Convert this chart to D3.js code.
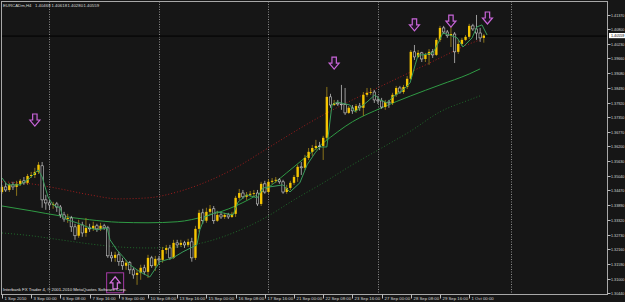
<!DOCTYPE html>
<html>
<head>
<meta charset="utf-8">
<script src="https://cdnjs.cloudflare.com/ajax/libs/d3/7.8.5/d3.min.js"></script>
<style>
	html, body { margin: 0; padding: 0; background: #161616; }
	svg { display: block; }
	text { font-family: "Liberation Sans", Arial, sans-serif; }
</style>
</head>
<body>
<div id="chart"></div>
<script>
const symbol = "EURCADm,H4";
const lastOHLC = ["1.40468", "1.40618", "1.40280", "1.40559"];
const currentPrice = 1.40559;
const copyright = "Interbank FX Trader 4, \u00a9 2001-2010 MetaQuotes Software Corp.";

// H4 candles, bar 0 = 1 Sep 2010 16:00
const opens = [
	1.3441, 1.3461, 1.3449, 1.3469, 1.3461, 1.3473, 1.3485, 1.3477, 1.3504, 1.3508,
	1.3520, 1.3544, 1.3410, 1.3398, 1.3390, 1.3394, 1.3382, 1.3351, 1.3335, 1.3339,
	1.3304, 1.3269, 1.3312, 1.3280, 1.3300, 1.3296, 1.3308, 1.3296, 1.3308, 1.3300,
	1.3190, 1.3182, 1.3194, 1.3167, 1.3151, 1.3163, 1.3135, 1.3115, 1.3123, 1.3143,
	1.3127, 1.3182, 1.3151, 1.3178, 1.3174, 1.3213, 1.3221, 1.3182, 1.3241, 1.3233,
	1.3241, 1.3233, 1.3245, 1.3182, 1.3296, 1.3359, 1.3328, 1.3363, 1.3375, 1.3328,
	1.3351, 1.3343, 1.3351, 1.3343, 1.3355, 1.3418, 1.3437, 1.3422, 1.3430, 1.3434,
	1.3437, 1.3394, 1.3473, 1.3441, 1.3481, 1.3485, 1.3489, 1.3481, 1.3441, 1.3457,
	1.3477, 1.3500, 1.3540, 1.3536, 1.3575, 1.3599, 1.3614, 1.3622, 1.3622, 1.3654,
	1.3815, 1.3783, 1.3791, 1.3787, 1.3785, 1.3752, 1.3772, 1.3760, 1.3779, 1.3772,
	1.3823, 1.3831, 1.3834, 1.3803, 1.3799, 1.3775, 1.3795, 1.3791, 1.3823, 1.3850,
	1.3834, 1.3854, 1.3886, 1.3992, 1.3972, 1.3988, 1.3964, 1.3980, 1.3992, 1.3980,
	1.4039, 1.4086, 1.4070, 1.4055, 1.4062, 1.3992, 1.4023, 1.4039, 1.4051, 1.4094,
	1.4082, 1.4066, 1.40468
];
const highs = [
	1.3469, 1.3477, 1.3477, 1.3481, 1.3485, 1.3492, 1.3500, 1.3512, 1.3520, 1.3536,
	1.3559, 1.3559, 1.3430, 1.3410, 1.3402, 1.3402, 1.3390, 1.3363, 1.3355, 1.3347,
	1.3316, 1.3332, 1.3324, 1.3339, 1.3316, 1.3324, 1.3316, 1.3320, 1.3316, 1.3308,
	1.3206, 1.3206, 1.3206, 1.3182, 1.3174, 1.3170, 1.3143, 1.3135, 1.3155, 1.3155,
	1.3194, 1.3190, 1.3190, 1.3190, 1.3225, 1.3233, 1.3233, 1.3253, 1.3253, 1.3253,
	1.3249, 1.3257, 1.3261, 1.3308, 1.3371, 1.3375, 1.3379, 1.3390, 1.3386, 1.3367,
	1.3363, 1.3359, 1.3359, 1.3363, 1.3426, 1.3453, 1.3449, 1.3441, 1.3445, 1.3449,
	1.3449, 1.3481, 1.3485, 1.3492, 1.3496, 1.3500, 1.3496, 1.3489, 1.3469, 1.3485,
	1.3508, 1.3548, 1.3559, 1.3587, 1.3614, 1.3626, 1.3646, 1.3638, 1.3662, 1.3854,
	1.3827, 1.3803, 1.3803, 1.3862, 1.3850, 1.3779, 1.3783, 1.3787, 1.3791, 1.3834,
	1.3850, 1.3850, 1.3842, 1.3819, 1.3811, 1.3803, 1.3803, 1.3831, 1.3858, 1.3858,
	1.3862, 1.3897, 1.3999, 1.4019, 1.3999, 1.3992, 1.3988, 1.4003, 1.4003, 1.4047,
	1.4094, 1.4094, 1.4078, 1.4090, 1.4070, 1.4039, 1.4047, 1.4058, 1.4102, 1.4102,
	1.4137, 1.4086, 1.40618
];
const lows = [
	1.3434, 1.3441, 1.3441, 1.3449, 1.3426, 1.3465, 1.3469, 1.3469, 1.3496, 1.3496,
	1.3512, 1.3379, 1.3371, 1.3371, 1.3375, 1.3363, 1.3339, 1.3324, 1.3320, 1.3284,
	1.3253, 1.3261, 1.3265, 1.3265, 1.3284, 1.3288, 1.3284, 1.3288, 1.3292, 1.3182,
	1.3167, 1.3167, 1.3151, 1.3135, 1.3135, 1.3119, 1.3100, 1.3076, 1.3096, 1.3115,
	1.3103, 1.3143, 1.3131, 1.3159, 1.3163, 1.3198, 1.3174, 1.3178, 1.3221, 1.3225,
	1.3221, 1.3225, 1.3167, 1.3174, 1.3284, 1.3316, 1.3320, 1.3355, 1.3316, 1.3324,
	1.3335, 1.3335, 1.3335, 1.3339, 1.3343, 1.3410, 1.3414, 1.3410, 1.3422, 1.3422,
	1.3386, 1.3386, 1.3434, 1.3434, 1.3473, 1.3477, 1.3473, 1.3434, 1.3434, 1.3449,
	1.3469, 1.3481, 1.3508, 1.3528, 1.3567, 1.3583, 1.3606, 1.3606, 1.3567, 1.3646,
	1.3772, 1.3779, 1.3779, 1.3764, 1.3744, 1.3748, 1.3748, 1.3752, 1.3760, 1.3740,
	1.3815, 1.3823, 1.3791, 1.3787, 1.3768, 1.3764, 1.3772, 1.3783, 1.3815, 1.3827,
	1.3827, 1.3846, 1.3882, 1.3960, 1.3968, 1.3952, 1.3952, 1.3941, 1.3968, 1.3976,
	1.4031, 1.4062, 1.4047, 1.4011, 1.3948, 1.3984, 1.4015, 1.4035, 1.4043, 1.4074,
	1.4039, 1.4031, 1.40280
];
const closes = [
	1.3461, 1.3449, 1.3469, 1.3461, 1.3473, 1.3485, 1.3477, 1.3504, 1.3508, 1.3520,
	1.3548, 1.3410, 1.3398, 1.3390, 1.3394, 1.3382, 1.3351, 1.3335, 1.3339, 1.3304,
	1.3269, 1.3312, 1.3280, 1.3300, 1.3296, 1.3308, 1.3296, 1.3308, 1.3300, 1.3190,
	1.3182, 1.3194, 1.3167, 1.3151, 1.3163, 1.3135, 1.3115, 1.3123, 1.3143, 1.3127,
	1.3182, 1.3151, 1.3178, 1.3174, 1.3213, 1.3221, 1.3182, 1.3241, 1.3233, 1.3241,
	1.3233, 1.3245, 1.3182, 1.3296, 1.3359, 1.3328, 1.3363, 1.3375, 1.3328, 1.3351,
	1.3343, 1.3351, 1.3343, 1.3355, 1.3418, 1.3437, 1.3422, 1.3430, 1.3434, 1.3437,
	1.3394, 1.3473, 1.3441, 1.3481, 1.3485, 1.3489, 1.3481, 1.3441, 1.3457, 1.3477,
	1.3500, 1.3540, 1.3536, 1.3575, 1.3599, 1.3614, 1.3622, 1.3620, 1.3654, 1.3815,
	1.3783, 1.3791, 1.3787, 1.3785, 1.3752, 1.3772, 1.3760, 1.3779, 1.3772, 1.3823,
	1.3831, 1.3834, 1.3803, 1.3799, 1.3775, 1.3795, 1.3791, 1.3823, 1.3850, 1.3834,
	1.3854, 1.3886, 1.3992, 1.3972, 1.3988, 1.3964, 1.3980, 1.3992, 1.3980, 1.4039,
	1.4086, 1.4070, 1.4055, 1.4062, 1.3992, 1.4023, 1.4039, 1.4051, 1.4094, 1.4082,
	1.4066, 1.40468, 1.40559
];

// indicator lines, sampled at bar indexes
const bandBars = [0, 8, 16, 24, 32, 40, 48, 56, 64, 72, 80, 88, 96, 104, 112, 120, 128, 131];
const maSlow = [1.3386, 1.3367, 1.3347, 1.3332, 1.3322, 1.3320, 1.3324, 1.3347, 1.3386, 1.3449,
	1.3540, 1.3634, 1.3717, 1.3772, 1.3819, 1.3862, 1.3905, 1.3925];
const bandUpper = [1.3481, 1.3473, 1.3453, 1.3430, 1.3414, 1.3418, 1.3441, 1.3481, 1.3536, 1.3606,
	1.3677, 1.3744, 1.3803, 1.3858, 1.3913, 1.3968, 1.4023, 1.4039];
const bandLower = [1.3280, 1.3269, 1.3253, 1.3237, 1.3225, 1.3221, 1.3225, 1.3245, 1.3284, 1.3339,
	1.3410, 1.3477, 1.3548, 1.3614, 1.3681, 1.3756, 1.3803, 1.3819];

const fastBars = [0, 1.4, 4.9, 7.7, 9.9, 11, 12.6, 14, 15.9, 16.7, 17.8, 20.5, 23.3, 26, 28.8, 29.6,
	31.5, 33.2, 35, 37.8, 40.5, 43.3, 46.8, 49.6, 53.4, 54.2, 55.6, 58.9, 63.3, 64.7, 67.1, 69.9,
	71.5, 77, 78.9, 81.6, 83.6, 85.8, 87.1, 89, 90.4, 91.8, 95.3, 96.7, 100, 102.2, 103.6, 105.5,
	107.1, 109.9, 111.8, 113.2, 114, 115.3, 118.1, 119.5, 120.8, 122.7, 124.7, 126.3, 128.8, 130.1,
	131.5, 132.9];
const maFast = [1.3496, 1.3469, 1.3469, 1.3496, 1.3528, 1.3500, 1.3422, 1.3390, 1.3379, 1.3343,
	1.3332, 1.3320, 1.3304, 1.3292, 1.3300, 1.3253, 1.3213, 1.3186, 1.3155, 1.3127, 1.3107, 1.3167,
	1.3182, 1.3206, 1.3233, 1.3292, 1.3343, 1.3363, 1.3351, 1.3402, 1.3430, 1.3418, 1.3457, 1.3469,
	1.3441, 1.3477, 1.3548, 1.3595, 1.3618, 1.3618, 1.3783, 1.3795, 1.3783, 1.3756, 1.3795, 1.3823,
	1.3803, 1.3791, 1.3815, 1.3842, 1.3870, 1.3941, 1.3980, 1.3980, 1.3988, 1.4027, 1.4066, 1.4058,
	1.4047, 1.4011, 1.4047, 1.4090, 1.4098, 1.4058];

// signal arrows
const downArrowBars = [9, 91, 113, 123, 133];
const downArrowPrices = [1.3724, 1.3948, 1.4098, 1.4113, 1.4125];
const upArrowBars = [31];
const upArrowPrices = [1.3084];

// axes
const priceLabels = ["1.41370", "1.40800", "1.40230", "1.39660", "1.39080", "1.38490", "1.37920",
	"1.37350", "1.36770", "1.36200", "1.35630", "1.35040", "1.34470", "1.33890", "1.33320",
	"1.32730", "1.32160", "1.31590", "1.31000", "1.30440"];
const timeLabels = ["1 Sep 2010", "3 Sep 00:00", "6 Sep 08:00", "7 Sep 16:00", "9 Sep 00:00",
	"10 Sep 08:00", "13 Sep 16:00", "15 Sep 00:00", "16 Sep 08:00", "17 Sep 16:00", "21 Sep 00:00",
	"22 Sep 08:00", "23 Sep 16:00", "27 Sep 00:00", "28 Sep 08:00", "29 Sep 16:00", "1 Oct 00:00"];
const timeLabelBars = [0, 8, 16, 24, 32, 40, 48, 56, 64, 72, 80, 88, 96, 104, 112, 120, 128];
const gridBars = [13, 43, 73, 103, 139.5];

const W = 625, H = 302;
const plot = { left: 1.5, top: 1.5, right: 607.5, bottom: 294.5 };

const svg = d3.select("#chart").append("svg").attr("width", W).attr("height", H);
svg.append("rect").attr("width", W).attr("height", H).attr("fill", "#161616");

const x = d3.scaleLinear().domain([0, 132]).range([2, 483.8]);
const y = d3.scaleLinear().domain([1.3040, 1.4184]).range([294, 3]);

const chart = svg.append("g");

// weekly separators
chart.selectAll(".grid").data(gridBars).enter().append("line")
	.attr("x1", d => Math.round(x(d)) + 0.5).attr("x2", d => Math.round(x(d)) + 0.5)
	.attr("y1", plot.top).attr("y2", plot.bottom)
	.attr("stroke", "#8c8c8c").attr("stroke-width", 1).attr("stroke-dasharray", "1,1.5");

// bid line
chart.append("line")
	.attr("x1", plot.left).attr("x2", plot.right)
	.attr("y1", y(currentPrice) + 0.5).attr("y2", y(currentPrice) + 0.5)
	.attr("stroke", "#000").attr("stroke-width", 1);

const line = (bars, vals, curve) => d3.line()
	.x((d, i) => x(bars[i])).y(d => y(d)).curve(curve)(vals);

chart.append("path").attr("d", line(bandBars, bandUpper, d3.curveMonotoneX))
	.attr("fill", "none").attr("stroke", "#a01c1c").attr("stroke-width", 1).attr("stroke-dasharray", "1,2");
chart.append("path").attr("d", line(bandBars, bandLower, d3.curveMonotoneX))
	.attr("fill", "none").attr("stroke", "#1f6a2a").attr("stroke-width", 1).attr("stroke-dasharray", "1,2");
chart.append("path").attr("d", line(bandBars, maSlow, d3.curveMonotoneX))
	.attr("fill", "none").attr("stroke", "#2f9a44").attr("stroke-width", 1);

// candles
const candles = closes.map((c, i) => ({ i, o: opens[i], h: highs[i], l: lows[i], c }));
const bodyW = 2.4;
const cg = chart.selectAll(".candle").data(candles).enter().append("g");
cg.append("line")
	.attr("x1", d => x(d.i)).attr("x2", d => x(d.i))
	.attr("y1", d => y(d.h)).attr("y2", d => y(d.l))
	.attr("stroke", d => d.c >= d.o ? "#a88c1c" : "#bdbdbd").attr("stroke-width", 0.8);
cg.append("rect")
	.attr("x", d => x(d.i) - bodyW / 2)
	.attr("y", d => y(Math.max(d.o, d.c)))
	.attr("width", bodyW)
	.attr("height", d => Math.max(0.8, Math.abs(y(d.o) - y(d.c))))
	.attr("fill", d => d.c >= d.o ? "#f4c400" : "#161616")
	.attr("stroke", d => d.c >= d.o ? "none" : "#cfcfcf")
	.attr("stroke-width", 0.6);

chart.append("path").attr("d", line(fastBars, maFast, d3.curveLinear))
	.attr("fill", "none").attr("stroke", "#3a9c5c").attr("stroke-width", 1);

// arrows
const downArrow = "M-2.2,-6L2.2,-6L2.2,0L5,0L0,6L-5,0L-2.2,0Z";
chart.selectAll(".dn").data(downArrowBars).enter().append("path")
	.attr("d", downArrow)
	.attr("transform", (d, i) => `translate(${x(d)},${y(downArrowPrices[i])})`)
	.attr("fill", "#1c1420").attr("stroke", "#c865d8").attr("stroke-width", 1.2);
const up = chart.selectAll(".up").data(upArrowBars).enter().append("g")
	.attr("transform", (d, i) => `translate(${x(d)},${y(upArrowPrices[i])})`);
up.append("rect").attr("x", -8.5).attr("y", -10).attr("width", 17).attr("height", 20)
	.attr("fill", "none").attr("stroke", "#a83aa8").attr("stroke-width", 1);
up.append("path").attr("d", downArrow).attr("transform", "rotate(180)")
	.attr("fill", "#1c1420").attr("stroke", "#d870e0").attr("stroke-width", 1.2);

// frame
svg.append("rect")
	.attr("x", plot.left).attr("y", plot.top)
	.attr("width", plot.right - plot.left).attr("height", plot.bottom - plot.top)
	.attr("fill", "none").attr("stroke", "#a8a8a8").attr("stroke-width", 1);

// price axis (small labels so they fit inside the window)
const pa = svg.append("g");
priceLabels.forEach(p => {
	const py = Math.round(y(+p)) + 0.5;
	pa.append("line").attr("x1", plot.right).attr("x2", plot.right + 3)
		.attr("y1", py).attr("y2", py).attr("stroke", "#bdbdbd");
	pa.append("text").attr("x", plot.right + 3.5).attr("y", py + 1.4)
		.attr("font-size", 3.7).attr("fill", "#d8d8d8").text(p);
});
const cy = y(currentPrice);
pa.append("rect").attr("x", plot.right + 1.5).attr("y", cy - 2.6)
	.attr("width", 16).attr("height", 5.2).attr("fill", "#ffffff");
pa.append("text").attr("x", plot.right + 3.5).attr("y", cy + 1.4)
	.attr("font-size", 3.7).attr("fill", "#000").text(lastOHLC[3]);

// time axis
const ta = svg.append("g");
timeLabels.forEach((t, i) => {
	const tx = Math.round(x(timeLabelBars[i])) + 0.5;
	ta.append("line").attr("x1", tx).attr("x2", tx)
		.attr("y1", plot.bottom).attr("y2", plot.bottom + 4).attr("stroke", "#bdbdbd");
	ta.append("text").attr("x", tx + 2).attr("y", 299.8)
		.attr("font-size", 4.3).attr("fill", "#d8d8d8").text(t);
});

// header and footer text
svg.append("text").attr("x", 3).attr("y", 6.6).attr("font-size", 4.3).attr("fill", "#d8d8d8")
	.text(symbol);
const ohlcX = [35, 51.5, 67.5, 83.5];
lastOHLC.forEach((v, i) => {
	svg.append("text").attr("x", ohlcX[i]).attr("y", 6.6).attr("font-size", 4.3)
		.attr("fill", "#d8d8d8").text(v);
});
svg.append("text").attr("x", 3).attr("y", 291).attr("font-size", 4.3).attr("fill", "#e0e0e0")
	.text(copyright);
</script>
</body>
</html>
